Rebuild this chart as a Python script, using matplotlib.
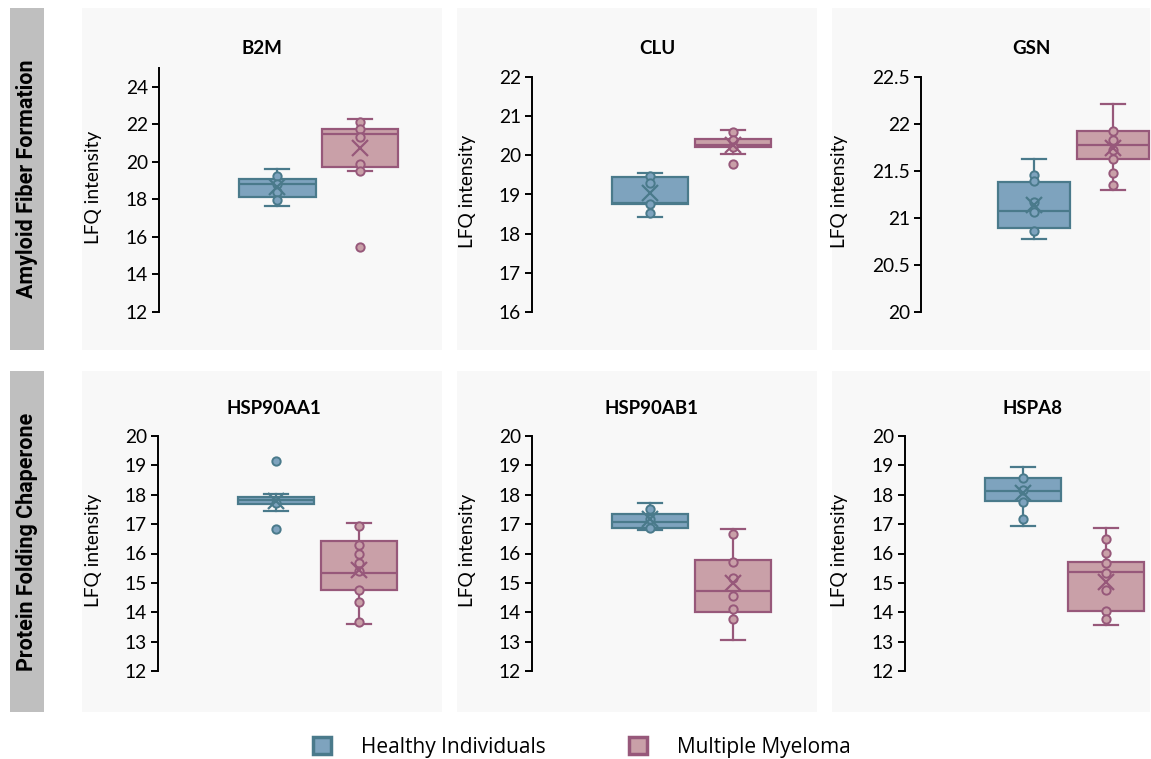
import matplotlib.pyplot as plt
import numpy as np
from matplotlib.patches import Rectangle, Patch

# ---- data ----
genes = ['B2M', 'CLU', 'GSN', 'HSP90AA1', 'HSP90AB1', 'HSPA8']
groups = ['Amyloid Fiber Formation', 'Protein Folding Chaperone']
series = ['Healthy Individuals', 'Multiple Myeloma']

# box stats per gene: [whisker low, q1, median, q3, whisker high]
healthy_box = [
    [17.65, 18.13, 18.81, 19.11, 19.64],
    [18.43, 18.75, 18.79, 19.44, 19.54],
    [20.78, 20.89, 21.07, 21.38, 21.63],
    [17.45, 17.70, 17.81, 17.91, 18.02],
    [16.80, 16.86, 17.06, 17.33, 17.71],
    [16.94, 17.78, 18.13, 18.56, 18.96],
]
myeloma_box = [
    [19.50, 19.73, 21.48, 21.74, 22.31],
    [20.03, 20.21, 20.27, 20.42, 20.65],
    [21.30, 21.63, 21.78, 21.93, 22.21],
    [13.61, 14.75, 15.32, 16.43, 17.05],
    [13.07, 14.01, 14.71, 15.79, 16.85],
    [13.56, 14.03, 15.37, 15.72, 16.88],
]
healthy_mean = [18.67, 19.03, 21.14, 17.78, 17.16, 18.05]
myeloma_mean = [20.75, 20.27, 21.75, 15.43, 15.00, 15.04]

healthy_points = [
    [19.24, 18.84, 18.40, 17.99],
    [19.48, 19.29, 18.76, 18.52],
    [21.46, 21.39, 21.17, 21.06, 20.86],
    [19.14, 17.73, 16.84],
    [17.51, 17.16, 16.88],
    [18.56, 18.15, 17.77, 17.16],
]
myeloma_points = [
    [22.13, 21.74, 21.33, 19.91, 19.50, 15.47],
    [20.61, 20.40, 20.21, 19.77],
    [21.93, 21.83, 21.72, 21.63, 21.48, 21.35],
    [16.93, 16.28, 15.97, 15.68, 15.40, 14.77, 14.35, 13.68],
    [16.67, 15.70, 15.17, 14.57, 14.10, 13.78],
    [16.48, 16.03, 15.69, 15.35, 14.77, 14.03, 13.76],
]

y_ranges = [(12, 25), (16, 22), (20, 22.5), (12, 20), (12, 20), (12, 20)]
y_steps = [2, 1, 0.5, 1, 1, 1]

# ---- styling / layout ----
W, H = 1151, 759
fill = ['#7ea3be', '#c9a0a8']
edge = ['#4a7a8b', '#97587a']
panel_bg = '#f8f8f8'

plt.rcParams['font.family'] = ['Lato', 'DejaVu Sans']

fig = plt.figure(figsize=(W / 100, H / 100), dpi=100)


def fx(px):
    return px / W


def fy(py):
    return 1 - py / H


# panel backgrounds and row labels
panel_x = [(82, 442), (457, 817), (832, 1150)]
row_y = [(8, 350), (371, 712)]
for r, (y0, y1) in enumerate(row_y):
    for x0, x1 in panel_x:
        fig.add_artist(Rectangle((fx(x0), fy(y1)), fx(x1 - x0), (y1 - y0) / H,
                                 facecolor=panel_bg, edgecolor='none', zorder=0))
    fig.add_artist(Rectangle((fx(10), fy(y1)), fx(34), (y1 - y0) / H,
                             facecolor='#bfbfbf', edgecolor='none', zorder=0))
    fig.text(fx(27), fy((y0 + y1) / 2), groups[r], rotation=90, ha='center', va='center',
             fontsize=15.5, fontweight='bold',
             family=['Liberation Sans Narrow', 'Roboto', 'DejaVu Sans'])

# axes geometry in pixels: spine x, top, bottom
spine_x = [159, 532, 921, 158, 532, 905]
ax_top = [68.3, 77.3, 77.3, 436, 436, 436]
ax_bot = [311.7, 311.7, 311.7, 671, 671, 671]
ax_w = [280, 280, 245, 280, 280, 280]
box_pos = [[118, 201], [118, 201], [113, 192], [118, 201], [118, 201], [118, 201]]
box_w = [77, 76, 72, 76, 76, 76]
title_x = [262, 657, 1031, 274, 651, 1032]
title_y = [48, 48, 48, 408, 408, 408]
ylabel_x = [93, 467, 840, 93, 467, 840]

for i, g in enumerate(genes):
    ax = fig.add_axes([fx(spine_x[i]), fy(ax_bot[i]), fx(ax_w[i]),
                       (ax_bot[i] - ax_top[i]) / H])
    ax.set_facecolor('none')
    ax.set_xlim(0, ax_w[i])
    lo, hi = y_ranges[i]
    ax.set_ylim(lo, hi)

    for s, (bx, mn, pts) in enumerate([(healthy_box[i], healthy_mean[i], healthy_points[i]),
                                        (myeloma_box[i], myeloma_mean[i], myeloma_points[i])]):
        st = dict(whislo=bx[0], q1=bx[1], med=bx[2], q3=bx[3], whishi=bx[4], fliers=[])
        pos = box_pos[i][s]
        ax.bxp([st], positions=[pos], widths=box_w[i], capwidths=[24],
               patch_artist=True, showfliers=False,
               boxprops=dict(facecolor=fill[s], edgecolor=edge[s], linewidth=1.6),
               medianprops=dict(color=edge[s], linewidth=1.6),
               whiskerprops=dict(color=edge[s], linewidth=1.6),
               capprops=dict(color=edge[s], linewidth=1.6))
        ax.plot([pos] * len(pts), pts, 'o', ms=6, mfc=fill[s], mec=edge[s], mew=1.4, zorder=4)
        ax.plot([pos], [mn], marker='x', ms=11, mew=1.6, color=edge[s], ls='none', zorder=5)

    ticks = np.arange(lo, hi + 1e-9, y_steps[i])
    ax.set_yticks(ticks)
    ax.set_yticklabels([('%g' % t) for t in ticks])
    ax.set_xticks([])
    for sp in ['top', 'right', 'bottom']:
        ax.spines[sp].set_visible(False)
    ax.spines['left'].set_linewidth(1.4)
    ax.tick_params(axis='y', length=5, width=1.4, labelsize=13.8, pad=3)

    fig.text(fx(title_x[i]), fy(title_y[i]), g, ha='center', va='center',
             fontsize=13.5, fontweight='bold')
    fig.text(fx(ylabel_x[i]), fy((ax_top[i] + ax_bot[i]) / 2 - 3), 'LFQ intensity',
             rotation=90, ha='center', va='center', fontsize=13.8)

handles = [Patch(facecolor=fill[k], edgecolor=edge[k], linewidth=2.5, label=series[k])
           for k in range(2)]
fig.legend(handles=handles, loc='center', bbox_to_anchor=(fx(582), fy(747)), ncol=2,
           frameon=False, prop={'family': ['Open Sans', 'DejaVu Sans'], 'size': 15},
           handlelength=0.85, handleheight=0.85, handletextpad=1.45, columnspacing=4.0)

fig.savefig('out.png', dpi=100)
